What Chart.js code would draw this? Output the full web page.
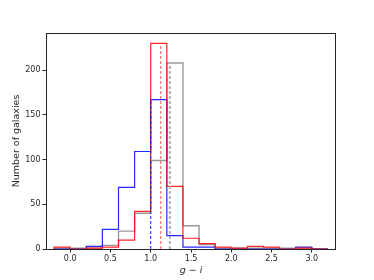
<!DOCTYPE html>
<html>
<head>
<meta charset="utf-8">
<script src="https://cdn.jsdelivr.net/npm/chart.js@4"></script>
<style>
    html, body { margin: 0; padding: 0; background: #fff; }
    #wrap { width: 374px; height: 280px; }
</style>
</head>
<body>
<div id="wrap"><canvas id="chart" width="374" height="280"></canvas></div>
<script>
// bin edges of the g-i histograms
const binEdges = [-0.2, 0.0, 0.2, 0.4, 0.6, 0.8, 1.0, 1.2, 1.4, 1.6, 1.8, 2.0, 2.2, 2.4, 2.6, 2.8, 3.0, 3.2];

// counts per bin
const blueCounts = [0, 0, 3, 22, 69, 109, 167, 15, 2, 2, 0, 0, 0, 0, 0, 2, 0];
const redCounts = [2, 0, 1, 2, 10, 42, 230, 70, 12, 6, 2, 1, 3, 2, 0, 1, 0];
const grayCounts = [1, 1, 1, 4, 20, 40, 99, 208, 26, 5, 1, 1, 1, 1, 1, 1, 0];

// medians (dashed lines): position and height
const medianX = [1.0, 1.124, 1.237];
const medianTop = [167, 230, 208];

const xTicks = [0.0, 0.5, 1.0, 1.5, 2.0, 2.5, 3.0];
const yTicks = [0, 50, 100, 150, 200];

const FONT = 'DejaVu Sans';
const INK = '#262626';

function stepPoints(edges, counts) {
    const pts = [{ x: edges[0], y: 0 }, { x: edges[0], y: counts[0] }];
    counts.forEach((c, i) => pts.push({ x: edges[i + 1], y: c }));
    pts.push({ x: edges[edges.length - 1], y: 0 });
    return pts;
}

function medianLine(i, color, width, dash) {
    return {
        data: [{ x: medianX[i], y: 0 }, { x: medianX[i], y: medianTop[i] }],
        borderColor: color,
        borderWidth: width,
        borderDash: dash,
        pointRadius: 0,
        fill: false,
    };
}

// straight segments: every point pair is either vertical or horizontal
function histLine(counts, color, width) {
    const pts = stepPoints(binEdges, counts);
    const data = [pts[0]];
    for (let i = 1; i < pts.length; i++) {
        const prev = data[data.length - 1];
        if (prev.x !== pts[i].x && prev.y !== pts[i].y) {
            data.push({ x: prev.x, y: pts[i].y });
        }
        data.push(pts[i]);
    }
    return {
        data: data,
        borderColor: color,
        borderWidth: width,
        tension: 0,
        pointRadius: 0,
        fill: false,
    };
}

const frame = {
    id: 'frame',
    afterDraw(chart) {
        const { ctx, chartArea: a } = chart;
        ctx.save();
        ctx.strokeStyle = INK;
        ctx.lineWidth = 1;
        ctx.strokeRect(a.left + 0.5, a.top + 0.5, a.right - a.left - 1, a.bottom - a.top);
        ctx.restore();
    },
};

new Chart(document.getElementById('chart'), {
    type: 'line',
    data: {
        datasets: [
            medianLine(0, 'rgba(0,0,255,0.9)', 1, [3, 2]),
            medianLine(1, 'rgba(255,60,60,0.75)', 1.2, [3, 2]),
            medianLine(2, 'rgba(170,170,170,0.9)', 2, [3, 2]),
            histLine(redCounts, 'rgba(255,0,0,0.85)', 1.2),
            histLine(blueCounts, 'rgba(0,0,255,0.85)', 1.2),
            histLine(grayCounts, 'rgba(128,128,128,0.8)', 1.4),
        ],
    },
    options: {
        responsive: false,
        animation: false,
        layout: { padding: { top: 33, right: 38, left: 0, bottom: 0 } },
        plugins: {
            legend: { display: false },
            tooltip: { enabled: false },
        },
        scales: {
            x: {
                type: 'linear',
                min: -0.3,
                max: 3.3,
                afterBuildTicks(scale) {
                    scale.ticks = xTicks.map(v => ({ value: v }));
                },
                afterFit(scale) { scale.height = 31; },
                ticks: {
                    autoSkip: false,
                    maxRotation: 0,
                    padding: 2,
                    color: INK,
                    font: { family: FONT, size: 8 },
                    callback: v => v.toFixed(1),
                },
                grid: {
                    drawOnChartArea: false,
                    drawTicks: true,
                    tickLength: 3.5,
                    color: INK,
                },
                border: { display: false },
                title: {
                    display: true,
                    text: 'g \u2212 i',
                    color: INK,
                    font: { family: FONT, size: 9.5, style: 'italic' },
                    padding: { top: 0, bottom: 4 },
                },
            },
            y: {
                min: 0,
                max: 241.5,
                afterBuildTicks(scale) {
                    scale.ticks = yTicks.map(v => ({ value: v }));
                },
                afterFit(scale) { scale.width = 46; },
                ticks: {
                    padding: 2,
                    color: INK,
                    font: { family: FONT, size: 8 },
                },
                grid: {
                    drawOnChartArea: false,
                    drawTicks: true,
                    tickLength: 3.5,
                    color: INK,
                },
                border: { display: false },
                title: {
                    display: true,
                    text: 'Number of galaxies',
                    color: INK,
                    font: { family: FONT, size: 9.5 },
                    padding: { top: 11, bottom: 0 },
                },
            },
        },
    },
    plugins: [frame],
});
</script>
</body>
</html>
